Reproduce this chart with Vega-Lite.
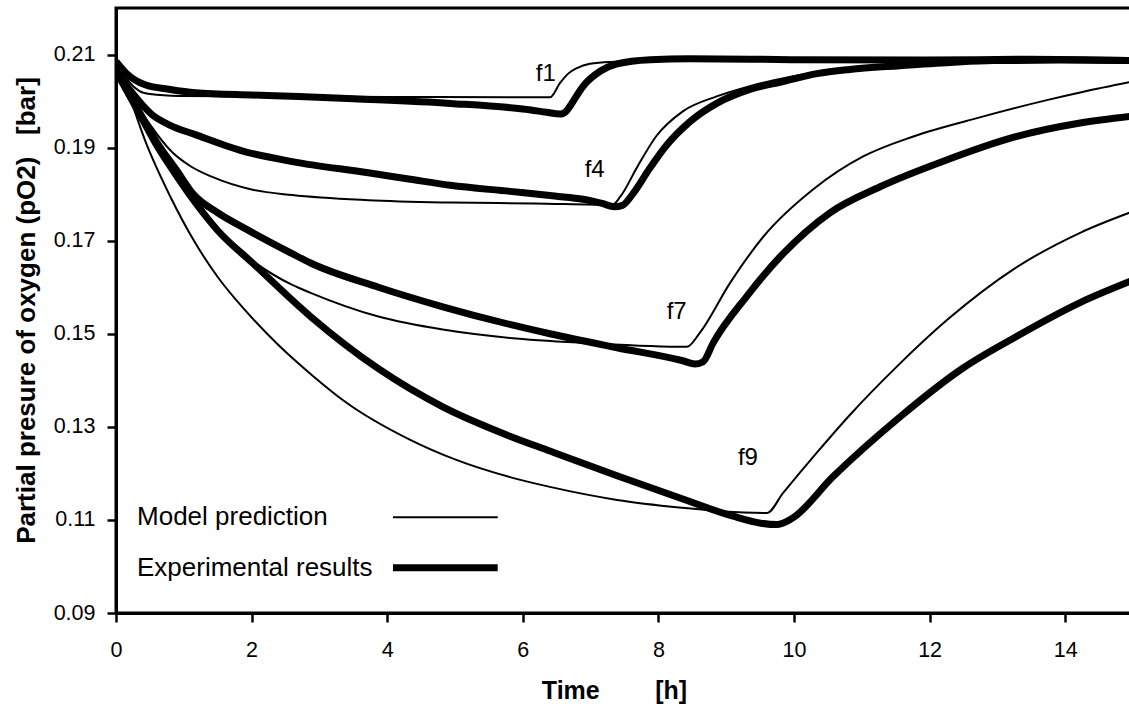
{
  "$schema": "https://vega.github.io/schema/vega-lite/v6.json",
  "width": 1017,
  "height": 605,
  "autosize": {"type": "none"},
  "padding": {"left": 116, "top": 8, "right": 0, "bottom": 95},
  "background": "white",
  "config": {
    "font": "Liberation Sans",
    "view": {"stroke": "black", "strokeWidth": 3},
    "axis": {
      "grid": false,
      "labelFlush": false,
      "domainColor": "black",
      "domainWidth": 3,
      "tickColor": "black",
      "tickWidth": 2.5,
      "tickSize": 9,
      "labelColor": "black",
      "titleColor": "black",
      "labelFont": "Liberation Sans",
      "titleFont": "Liberation Sans",
      "labelFontSize": 21.5,
      "titleFontSize": 25,
      "titleFontWeight": "bold"
    }
  },
  "datasets": {
    "curves": [
      {"c": "f1", "k": "Model prediction", "t": 0, "p": 0.2090},
      {"c": "f1", "k": "Model prediction", "t": 0.1, "p": 0.2062},
      {"c": "f1", "k": "Model prediction", "t": 0.2, "p": 0.2040},
      {"c": "f1", "k": "Model prediction", "t": 0.34, "p": 0.2022},
      {"c": "f1", "k": "Model prediction", "t": 0.5, "p": 0.2015},
      {"c": "f1", "k": "Model prediction", "t": 0.93, "p": 0.2011},
      {"c": "f1", "k": "Model prediction", "t": 2, "p": 0.2010},
      {"c": "f1", "k": "Model prediction", "t": 4, "p": 0.2009},
      {"c": "f1", "k": "Model prediction", "t": 6.40, "p": 0.2008},
      {"c": "f1", "k": "Model prediction", "t": 6.55, "p": 0.2039},
      {"c": "f1", "k": "Model prediction", "t": 6.67, "p": 0.2059},
      {"c": "f1", "k": "Model prediction", "t": 6.80, "p": 0.2071},
      {"c": "f1", "k": "Model prediction", "t": 6.99, "p": 0.2080},
      {"c": "f1", "k": "Model prediction", "t": 7.29, "p": 0.2084},
      {"c": "f1", "k": "Model prediction", "t": 7.97, "p": 0.2086},
      {"c": "f1", "k": "Model prediction", "t": 9.96, "p": 0.2087},
      {"c": "f1", "k": "Model prediction", "t": 15, "p": 0.2087},

      {"c": "f1", "k": "Experimental results", "t": 0, "p": 0.2085},
      {"c": "f1", "k": "Experimental results", "t": 0.15, "p": 0.2060},
      {"c": "f1", "k": "Experimental results", "t": 0.43, "p": 0.2035},
      {"c": "f1", "k": "Experimental results", "t": 0.8, "p": 0.2025},
      {"c": "f1", "k": "Experimental results", "t": 1.17, "p": 0.2018},
      {"c": "f1", "k": "Experimental results", "t": 2.0, "p": 0.2013},
      {"c": "f1", "k": "Experimental results", "t": 2.7, "p": 0.2010},
      {"c": "f1", "k": "Experimental results", "t": 3.5, "p": 0.2005},
      {"c": "f1", "k": "Experimental results", "t": 4.93, "p": 0.1995},
      {"c": "f1", "k": "Experimental results", "t": 6.0, "p": 0.1983},
      {"c": "f1", "k": "Experimental results", "t": 6.35, "p": 0.1976},
      {"c": "f1", "k": "Experimental results", "t": 6.55, "p": 0.1972},
      {"c": "f1", "k": "Experimental results", "t": 6.64, "p": 0.1978},
      {"c": "f1", "k": "Experimental results", "t": 6.70, "p": 0.1990},
      {"c": "f1", "k": "Experimental results", "t": 6.89, "p": 0.2032},
      {"c": "f1", "k": "Experimental results", "t": 7.14, "p": 0.2064},
      {"c": "f1", "k": "Experimental results", "t": 7.39, "p": 0.2080},
      {"c": "f1", "k": "Experimental results", "t": 7.88, "p": 0.2089},
      {"c": "f1", "k": "Experimental results", "t": 8.46, "p": 0.2091},
      {"c": "f1", "k": "Experimental results", "t": 9.96, "p": 0.2089},
      {"c": "f1", "k": "Experimental results", "t": 11.95, "p": 0.2088},
      {"c": "f1", "k": "Experimental results", "t": 13.44, "p": 0.2090},
      {"c": "f1", "k": "Experimental results", "t": 15, "p": 0.2087},

      {"c": "f4", "k": "Model prediction", "t": 0, "p": 0.2090},
      {"c": "f4", "k": "Model prediction", "t": 0.15, "p": 0.2040},
      {"c": "f4", "k": "Model prediction", "t": 0.3, "p": 0.1995},
      {"c": "f4", "k": "Model prediction", "t": 0.5, "p": 0.1950},
      {"c": "f4", "k": "Model prediction", "t": 0.83, "p": 0.1890},
      {"c": "f4", "k": "Model prediction", "t": 1.1, "p": 0.1860},
      {"c": "f4", "k": "Model prediction", "t": 1.42, "p": 0.1837},
      {"c": "f4", "k": "Model prediction", "t": 2.0, "p": 0.1810},
      {"c": "f4", "k": "Model prediction", "t": 2.6, "p": 0.1798},
      {"c": "f4", "k": "Model prediction", "t": 3.72, "p": 0.1787},
      {"c": "f4", "k": "Model prediction", "t": 4.93, "p": 0.1782},
      {"c": "f4", "k": "Model prediction", "t": 6.17, "p": 0.1780},
      {"c": "f4", "k": "Model prediction", "t": 7.32, "p": 0.1777},
      {"c": "f4", "k": "Model prediction", "t": 7.44, "p": 0.1795},
      {"c": "f4", "k": "Model prediction", "t": 7.69, "p": 0.1859},
      {"c": "f4", "k": "Model prediction", "t": 7.97, "p": 0.1925},
      {"c": "f4", "k": "Model prediction", "t": 8.36, "p": 0.1978},
      {"c": "f4", "k": "Model prediction", "t": 8.86, "p": 0.2010},
      {"c": "f4", "k": "Model prediction", "t": 9.35, "p": 0.2032},
      {"c": "f4", "k": "Model prediction", "t": 10.34, "p": 0.2062},
      {"c": "f4", "k": "Model prediction", "t": 11.31, "p": 0.2076},
      {"c": "f4", "k": "Model prediction", "t": 12.45, "p": 0.2084},
      {"c": "f4", "k": "Model prediction", "t": 13.44, "p": 0.2086},
      {"c": "f4", "k": "Model prediction", "t": 15, "p": 0.2087},

      {"c": "f4", "k": "Experimental results", "t": 0, "p": 0.2065},
      {"c": "f4", "k": "Experimental results", "t": 0.2, "p": 0.2025},
      {"c": "f4", "k": "Experimental results", "t": 0.53, "p": 0.1971},
      {"c": "f4", "k": "Experimental results", "t": 0.8, "p": 0.1948},
      {"c": "f4", "k": "Experimental results", "t": 1.17, "p": 0.1928},
      {"c": "f4", "k": "Experimental results", "t": 1.91, "p": 0.1891},
      {"c": "f4", "k": "Experimental results", "t": 2.6, "p": 0.1870},
      {"c": "f4", "k": "Experimental results", "t": 3.72, "p": 0.1846},
      {"c": "f4", "k": "Experimental results", "t": 4.34, "p": 0.1832},
      {"c": "f4", "k": "Experimental results", "t": 4.93, "p": 0.1819},
      {"c": "f4", "k": "Experimental results", "t": 5.81, "p": 0.1806},
      {"c": "f4", "k": "Experimental results", "t": 6.47, "p": 0.1796},
      {"c": "f4", "k": "Experimental results", "t": 6.89, "p": 0.1789},
      {"c": "f4", "k": "Experimental results", "t": 7.17, "p": 0.1780},
      {"c": "f4", "k": "Experimental results", "t": 7.35, "p": 0.1773},
      {"c": "f4", "k": "Experimental results", "t": 7.47, "p": 0.1776},
      {"c": "f4", "k": "Experimental results", "t": 7.62, "p": 0.1800},
      {"c": "f4", "k": "Experimental results", "t": 7.87, "p": 0.1855},
      {"c": "f4", "k": "Experimental results", "t": 8.12, "p": 0.1905},
      {"c": "f4", "k": "Experimental results", "t": 8.46, "p": 0.1955},
      {"c": "f4", "k": "Experimental results", "t": 8.86, "p": 0.1995},
      {"c": "f4", "k": "Experimental results", "t": 9.35, "p": 0.2025},
      {"c": "f4", "k": "Experimental results", "t": 9.84, "p": 0.2042},
      {"c": "f4", "k": "Experimental results", "t": 10.34, "p": 0.2059},
      {"c": "f4", "k": "Experimental results", "t": 10.82, "p": 0.2068},
      {"c": "f4", "k": "Experimental results", "t": 11.56, "p": 0.2076},
      {"c": "f4", "k": "Experimental results", "t": 12.31, "p": 0.2083},
      {"c": "f4", "k": "Experimental results", "t": 12.94, "p": 0.2087},
      {"c": "f4", "k": "Experimental results", "t": 13.94, "p": 0.2088},
      {"c": "f4", "k": "Experimental results", "t": 15, "p": 0.2087},

      {"c": "f7", "k": "Model prediction", "t": 0, "p": 0.2090},
      {"c": "f7", "k": "Model prediction", "t": 0.2, "p": 0.2020},
      {"c": "f7", "k": "Model prediction", "t": 0.4, "p": 0.1960},
      {"c": "f7", "k": "Model prediction", "t": 0.68, "p": 0.1890},
      {"c": "f7", "k": "Model prediction", "t": 0.9, "p": 0.1835},
      {"c": "f7", "k": "Model prediction", "t": 1.14, "p": 0.1780},
      {"c": "f7", "k": "Model prediction", "t": 1.5, "p": 0.1720},
      {"c": "f7", "k": "Model prediction", "t": 2.03, "p": 0.1655},
      {"c": "f7", "k": "Model prediction", "t": 2.6, "p": 0.1605},
      {"c": "f7", "k": "Model prediction", "t": 2.87, "p": 0.1588},
      {"c": "f7", "k": "Model prediction", "t": 3.87, "p": 0.1537},
      {"c": "f7", "k": "Model prediction", "t": 4.82, "p": 0.1509},
      {"c": "f7", "k": "Model prediction", "t": 5.81, "p": 0.1491},
      {"c": "f7", "k": "Model prediction", "t": 6.97, "p": 0.1480},
      {"c": "f7", "k": "Model prediction", "t": 8.42, "p": 0.1472},
      {"c": "f7", "k": "Model prediction", "t": 8.61, "p": 0.1502},
      {"c": "f7", "k": "Model prediction", "t": 9.06, "p": 0.1610},
      {"c": "f7", "k": "Model prediction", "t": 9.55, "p": 0.1709},
      {"c": "f7", "k": "Model prediction", "t": 10.28, "p": 0.1810},
      {"c": "f7", "k": "Model prediction", "t": 11.02, "p": 0.1881},
      {"c": "f7", "k": "Model prediction", "t": 11.76, "p": 0.1924},
      {"c": "f7", "k": "Model prediction", "t": 12.74, "p": 0.1965},
      {"c": "f7", "k": "Model prediction", "t": 13.73, "p": 0.2002},
      {"c": "f7", "k": "Model prediction", "t": 14.27, "p": 0.2020},
      {"c": "f7", "k": "Model prediction", "t": 15, "p": 0.2042},

      {"c": "f7", "k": "Experimental results", "t": 0, "p": 0.2065},
      {"c": "f7", "k": "Experimental results", "t": 0.3, "p": 0.1988},
      {"c": "f7", "k": "Experimental results", "t": 0.6, "p": 0.1912},
      {"c": "f7", "k": "Experimental results", "t": 0.9, "p": 0.1850},
      {"c": "f7", "k": "Experimental results", "t": 1.14, "p": 0.1800},
      {"c": "f7", "k": "Experimental results", "t": 1.5, "p": 0.1760},
      {"c": "f7", "k": "Experimental results", "t": 1.88, "p": 0.1728},
      {"c": "f7", "k": "Experimental results", "t": 2.6, "p": 0.1672},
      {"c": "f7", "k": "Experimental results", "t": 2.87, "p": 0.1652},
      {"c": "f7", "k": "Experimental results", "t": 3.87, "p": 0.1600},
      {"c": "f7", "k": "Experimental results", "t": 4.82, "p": 0.1558},
      {"c": "f7", "k": "Experimental results", "t": 5.81, "p": 0.1520},
      {"c": "f7", "k": "Experimental results", "t": 6.40, "p": 0.1500},
      {"c": "f7", "k": "Experimental results", "t": 7.39, "p": 0.1470},
      {"c": "f7", "k": "Experimental results", "t": 8.36, "p": 0.1442},
      {"c": "f7", "k": "Experimental results", "t": 8.54, "p": 0.1435},
      {"c": "f7", "k": "Experimental results", "t": 8.66, "p": 0.1440},
      {"c": "f7", "k": "Experimental results", "t": 8.81, "p": 0.1481},
      {"c": "f7", "k": "Experimental results", "t": 9.30, "p": 0.1580},
      {"c": "f7", "k": "Experimental results", "t": 9.80, "p": 0.1666},
      {"c": "f7", "k": "Experimental results", "t": 10.53, "p": 0.1760},
      {"c": "f7", "k": "Experimental results", "t": 11.27, "p": 0.1816},
      {"c": "f7", "k": "Experimental results", "t": 12.26, "p": 0.1874},
      {"c": "f7", "k": "Experimental results", "t": 13.23, "p": 0.1922},
      {"c": "f7", "k": "Experimental results", "t": 14.22, "p": 0.1953},
      {"c": "f7", "k": "Experimental results", "t": 15, "p": 0.1968},

      {"c": "f9", "k": "Model prediction", "t": 0, "p": 0.2090},
      {"c": "f9", "k": "Model prediction", "t": 0.2, "p": 0.2010},
      {"c": "f9", "k": "Model prediction", "t": 0.43, "p": 0.1915},
      {"c": "f9", "k": "Model prediction", "t": 0.8, "p": 0.1795},
      {"c": "f9", "k": "Model prediction", "t": 1.17, "p": 0.1695},
      {"c": "f9", "k": "Model prediction", "t": 1.5, "p": 0.1622},
      {"c": "f9", "k": "Model prediction", "t": 1.92, "p": 0.1548},
      {"c": "f9", "k": "Model prediction", "t": 2.38, "p": 0.1478},
      {"c": "f9", "k": "Model prediction", "t": 2.9, "p": 0.1410},
      {"c": "f9", "k": "Model prediction", "t": 3.37, "p": 0.1355},
      {"c": "f9", "k": "Model prediction", "t": 4.34, "p": 0.1272},
      {"c": "f9", "k": "Model prediction", "t": 5.0, "p": 0.1230},
      {"c": "f9", "k": "Model prediction", "t": 5.81, "p": 0.1192},
      {"c": "f9", "k": "Model prediction", "t": 6.40, "p": 0.1171},
      {"c": "f9", "k": "Model prediction", "t": 7.39, "p": 0.1143},
      {"c": "f9", "k": "Model prediction", "t": 8.36, "p": 0.1126},
      {"c": "f9", "k": "Model prediction", "t": 8.96, "p": 0.1118},
      {"c": "f9", "k": "Model prediction", "t": 9.60, "p": 0.1115},
      {"c": "f9", "k": "Model prediction", "t": 9.84, "p": 0.1158},
      {"c": "f9", "k": "Model prediction", "t": 10.34, "p": 0.1245},
      {"c": "f9", "k": "Model prediction", "t": 10.82, "p": 0.1325},
      {"c": "f9", "k": "Model prediction", "t": 11.52, "p": 0.1430},
      {"c": "f9", "k": "Model prediction", "t": 12.26, "p": 0.1530},
      {"c": "f9", "k": "Model prediction", "t": 13.23, "p": 0.1638},
      {"c": "f9", "k": "Model prediction", "t": 14.22, "p": 0.1717},
      {"c": "f9", "k": "Model prediction", "t": 15, "p": 0.1763},

      {"c": "f9", "k": "Experimental results", "t": 0, "p": 0.2065},
      {"c": "f9", "k": "Experimental results", "t": 0.3, "p": 0.1985},
      {"c": "f9", "k": "Experimental results", "t": 0.6, "p": 0.1905},
      {"c": "f9", "k": "Experimental results", "t": 0.9, "p": 0.1838},
      {"c": "f9", "k": "Experimental results", "t": 1.14, "p": 0.1788},
      {"c": "f9", "k": "Experimental results", "t": 1.5, "p": 0.1722},
      {"c": "f9", "k": "Experimental results", "t": 2.03, "p": 0.1650},
      {"c": "f9", "k": "Experimental results", "t": 2.87, "p": 0.1537},
      {"c": "f9", "k": "Experimental results", "t": 3.87, "p": 0.1425},
      {"c": "f9", "k": "Experimental results", "t": 4.82, "p": 0.1343},
      {"c": "f9", "k": "Experimental results", "t": 5.81, "p": 0.1280},
      {"c": "f9", "k": "Experimental results", "t": 6.40, "p": 0.1248},
      {"c": "f9", "k": "Experimental results", "t": 7.39, "p": 0.1195},
      {"c": "f9", "k": "Experimental results", "t": 8.36, "p": 0.1145},
      {"c": "f9", "k": "Experimental results", "t": 9.10, "p": 0.1108},
      {"c": "f9", "k": "Experimental results", "t": 9.51, "p": 0.1093},
      {"c": "f9", "k": "Experimental results", "t": 9.75, "p": 0.1090},
      {"c": "f9", "k": "Experimental results", "t": 9.91, "p": 0.1098},
      {"c": "f9", "k": "Experimental results", "t": 10.0, "p": 0.1106},
      {"c": "f9", "k": "Experimental results", "t": 10.57, "p": 0.1192},
      {"c": "f9", "k": "Experimental results", "t": 11.56, "p": 0.1321},
      {"c": "f9", "k": "Experimental results", "t": 12.50, "p": 0.1427},
      {"c": "f9", "k": "Experimental results", "t": 13.23, "p": 0.1490},
      {"c": "f9", "k": "Experimental results", "t": 14.22, "p": 0.1567},
      {"c": "f9", "k": "Experimental results", "t": 15, "p": 0.1615}
    ],
    "labels": [
      {"name": "f1", "t": 6.34, "p": 0.2059},
      {"name": "f4", "t": 7.06, "p": 0.1851},
      {"name": "f7", "t": 8.27, "p": 0.1547},
      {"name": "f9", "t": 9.32, "p": 0.1233}
    ],
    "legend": [
      {"k": "Model prediction", "tx": 0.31, "t1": 4.085, "t2": 5.63, "p": 0.1106},
      {"k": "Experimental results", "tx": 0.31, "t1": 4.085, "t2": 5.63, "p": 0.0997}
    ]
  },
  "layer": [
    {
      "data": {"name": "curves"},
      "mark": {"type": "line", "color": "black", "interpolate": "monotone", "clip": true},
      "encoding": {
        "x": {
          "field": "t", "type": "quantitative",
          "scale": {"domain": [0, 15], "nice": false, "zero": false},
          "axis": {
            "values": [0, 2, 4, 6, 8, 10, 12, 14],
            "format": "d",
            "labelPadding": 17,
            "title": "Time\u00a0\u00a0\u00a0\u00a0\u00a0\u00a0\u00a0\u00a0[h]",
            "titleBaseline": "middle",
            "titleX": 498,
            "titleY": 77
          }
        },
        "y": {
          "field": "p", "type": "quantitative",
          "scale": {"domain": [0.09, 0.22], "nice": false, "zero": false},
          "axis": {
            "values": [0.09, 0.11, 0.13, 0.15, 0.17, 0.19, 0.21],
            "format": ".2f",
            "labelPadding": 12,
            "title": "Partial presure of oxygen (pO2)\u00a0\u00a0\u00a0[bar]",
            "titleFontSize": 26,
            "titleBaseline": "middle",
            "titleX": -90,
            "titleY": 302
          }
        },
        "detail": [{"field": "c"}, {"field": "k"}],
        "strokeWidth": {
          "field": "k", "type": "nominal",
          "scale": {"domain": ["Experimental results", "Model prediction"], "range": [7, 2]},
          "legend": null
        }
      }
    },
    {
      "data": {"name": "labels"},
      "mark": {"type": "text", "fontSize": 24, "color": "black", "align": "center", "baseline": "middle", "font": "Liberation Sans"},
      "encoding": {
        "x": {"field": "t", "type": "quantitative"},
        "y": {"field": "p", "type": "quantitative"},
        "text": {"field": "name"}
      }
    },
    {
      "data": {"name": "legend"},
      "mark": {"type": "rule", "color": "black"},
      "encoding": {
        "x": {"field": "t1", "type": "quantitative"},
        "x2": {"field": "t2"},
        "y": {"field": "p", "type": "quantitative"},
        "strokeWidth": {
          "field": "k", "type": "nominal",
          "scale": {"domain": ["Experimental results", "Model prediction"], "range": [7, 2]},
          "legend": null
        }
      }
    },
    {
      "data": {"name": "legend"},
      "mark": {"type": "text", "fontSize": 26, "color": "black", "align": "left", "baseline": "middle", "font": "Liberation Sans"},
      "encoding": {
        "x": {"field": "tx", "type": "quantitative"},
        "y": {"field": "p", "type": "quantitative"},
        "text": {"field": "k"}
      }
    }
  ]
}
